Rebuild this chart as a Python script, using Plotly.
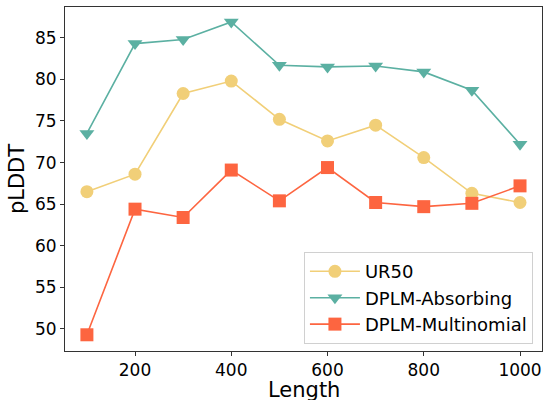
import plotly.graph_objects as go

lengths = [100, 200, 300, 400, 500, 600, 700, 800, 900, 1000]
ur50 = [66.5, 68.6, 78.3, 79.8, 75.2, 72.6, 74.5, 70.6, 66.3, 65.2]
dplm_absorbing = [73.5, 84.3, 84.8, 86.9, 81.7, 81.5, 81.6, 80.9, 78.7, 72.2]
dplm_multinomial = [49.3, 64.4, 63.4, 69.1, 65.4, 69.4, 65.2, 64.7, 65.1, 67.2]

fig = go.Figure()
series = [
    ("UR50", ur50, "#f1cf78", "circle"),
    ("DPLM-Absorbing", dplm_absorbing, "#5bb0a2", "triangle-down"),
    ("DPLM-Multinomial", dplm_multinomial, "#fd6540", "square"),
]
for name, vals, color, sym in series:
    fig.add_trace(go.Scatter(
        x=lengths, y=vals, name=name, mode="lines+markers",
        line=dict(color=color, width=1.6),
        marker=dict(color=color, symbol=sym, size=13, line=dict(width=0)),
    ))

axis_common = dict(
    showgrid=False, zeroline=False, showline=True, linecolor="#333333", linewidth=1,
    mirror=True, ticks="outside", ticklen=4, tickcolor="#333333", automargin=False,
    tickfont=dict(family="DejaVu Sans", size=17, color="black"),
)
fig.update_layout(
    width=543, height=400,
    margin=dict(l=65, r=1, t=7, b=49),
    plot_bgcolor="white", paper_bgcolor="white",
    font=dict(family="DejaVu Sans", color="black"),
    xaxis=dict(range=[54.5, 1045.7], tickvals=[200, 400, 600, 800, 1000], **axis_common),
    yaxis=dict(range=[47.35, 88.7], tickvals=[50, 55, 60, 65, 70, 75, 80, 85],
               title=dict(text="pLDDT", font=dict(size=21), standoff=4), **axis_common),
    legend=dict(x=0.981, y=0.02, xanchor="right", yanchor="bottom",
                bgcolor="rgba(255,255,255,0.8)", bordercolor="#d0d0d0", borderwidth=1,
                font=dict(size=18), itemwidth=50),
    annotations=[dict(text="Length", xref="paper", yref="paper", x=0.5, y=-0.113,
                      xanchor="center", yanchor="middle", showarrow=False,
                      font=dict(size=21, family="DejaVu Sans", color="black"))],
)
fig.write_html(
    "out.html",
    config={"displayModeBar": False},
    post_script="document.body.style.margin='0';document.documentElement.style.overflow='hidden';",
)
